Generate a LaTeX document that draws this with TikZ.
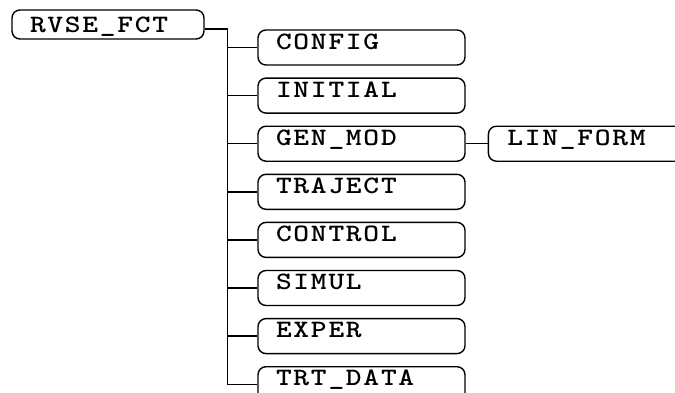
\documentclass[tikz,border=0pt]{standalone}
\usepackage{fontspec}
\newfontfamily\modfont[Extension=.otf, FakeStretch=1.2, LetterSpace=7]{lmmonolt10-bold}
\usepackage{tikz}
\usetikzlibrary{positioning}

\begin{document}
\begin{tikzpicture}[x=1pt, y=-1pt,
  modbox/.style={draw, rounded corners=8pt, line width=1.4pt, minimum height=35pt,
    text width=171pt, inner xsep=18pt, inner ysep=0pt, align=left,
    text height=15pt, text depth=12pt,
    font=\modfont\fontsize{25}{25}\selectfont},
  link/.style={line width=1.4pt},
  node distance=11.7pt]
\clip (0,0) rectangle (675,392);
\node[modbox, text width=156pt, minimum height=29pt, text depth=0pt] (rvse) at (108,24.5) {RVSE\_FCT};
\node[modbox] (config) at (361.5,47.5) {CONFIG};
\node[modbox, below=of config] (initial) {INITIAL};
\node[modbox, below=of initial] (genmod) {GEN\_MOD};
\node[modbox, below=of genmod] (traject) {TRAJECT};
\node[modbox, below=of traject] (control) {CONTROL};
\node[modbox, below=of control] (simul) {SIMUL};
\node[modbox, below=of simul] (exper) {EXPER};
\node[modbox, below=of exper] (trtdata) {TRT\_DATA};
\node[modbox, text width=169pt, inner xsep=19pt, right=22pt of genmod] (linform) {LIN\_FORM};
% tree links
\coordinate (trunk) at ([xshift=23pt, yshift=-4.5pt]rvse.east);
\draw[link] ([yshift=-4.5pt]rvse.east) -- (trunk) |- (trtdata.west);
\foreach \n in {config,initial,genmod,traject,control,simul,exper}
  \draw[link] (trunk |- \n.west) -- (\n.west);
\draw[link] (genmod.east) -- (linform.west);
\end{tikzpicture}
\end{document}
